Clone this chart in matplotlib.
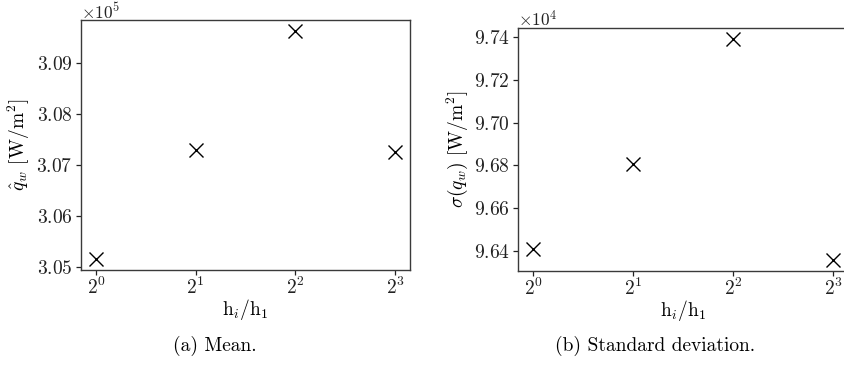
import matplotlib
matplotlib.use("Agg")
import matplotlib.pyplot as plt
from matplotlib.ticker import ScalarFormatter, FixedLocator

plt.rcParams.update({
    "font.family": "serif",
    "font.serif": ["cmr10", "DejaVu Serif"],
    "mathtext.fontset": "cm",
    "axes.formatter.use_mathtext": True,
    "font.size": 14,
    "axes.unicode_minus": False,
})

# data
ratio = [1, 2, 4, 8]                       # h_i / h_1
mean_qw = [3.0516e5, 3.0729e5, 3.0961e5, 3.0725e5]
std_qw = [9.641e4, 9.6805e4, 9.739e4, 9.6358e4]
mean_yticks = [3.05e5, 3.06e5, 3.07e5, 3.08e5, 3.09e5]
std_yticks = [9.64e4, 9.66e4, 9.68e4, 9.70e4, 9.72e4, 9.74e4]
xlabel = r"$\mathrm{h}_i/\mathrm{h}_1$"
ylabels = [r"$\hat{q}_w$ [W/m$^2$]", r"$\sigma(q_w)$ [W/m$^2$]"]
captions = ["(a) Mean.", "(b) Standard deviation."]

fig = plt.figure(figsize=(8.44, 3.75), dpi=100)
ax1 = fig.add_axes([81 / 844, 1 - 270 / 375, 329 / 844, 250 / 375])
ax2 = fig.add_axes([518 / 844, 1 - 271 / 375, 330 / 844, 243 / 375])

spine_col = "#3a3a3a"
for ax, vals, yt, yl in [(ax1, mean_qw, mean_yticks, ylabels[0]),
                         (ax2, std_qw, std_yticks, ylabels[1])]:
    ax.plot(ratio, vals, linestyle="none", marker="x", markersize=9.5,
            markeredgewidth=1.0, color="black")
    ax.set_xscale("log", base=2)
    ax.xaxis.set_major_locator(FixedLocator(ratio))
    ax.yaxis.set_major_locator(FixedLocator(yt))
    fmt = ScalarFormatter(useMathText=True, useOffset=False)
    fmt.set_powerlimits((0, 0))
    ax.yaxis.set_major_formatter(fmt)
    ax.yaxis.OFFSETTEXTPAD = 1
    off = ax.yaxis.get_offset_text()
    off.set_verticalalignment("baseline")
    off.set_fontsize(12.5)
    ax.set_xlabel(xlabel, labelpad=-1)
    ax.set_ylabel(yl, labelpad=3)
    for s in ax.spines.values():
        s.set_color(spine_col)
        s.set_linewidth(1.0)
    ax.tick_params(colors="#222222", labelcolor="#222222", length=3.5, width=0.9, pad=2.5)
    ax.tick_params(axis="x", pad=1.5)
    ax.minorticks_off()

fig.text(215 / 844, 1 - 346 / 375, captions[0], ha="center", va="center")
fig.text(655 / 844, 1 - 346 / 375, captions[1], ha="center", va="center")

fig.savefig("out.png", dpi=100)
